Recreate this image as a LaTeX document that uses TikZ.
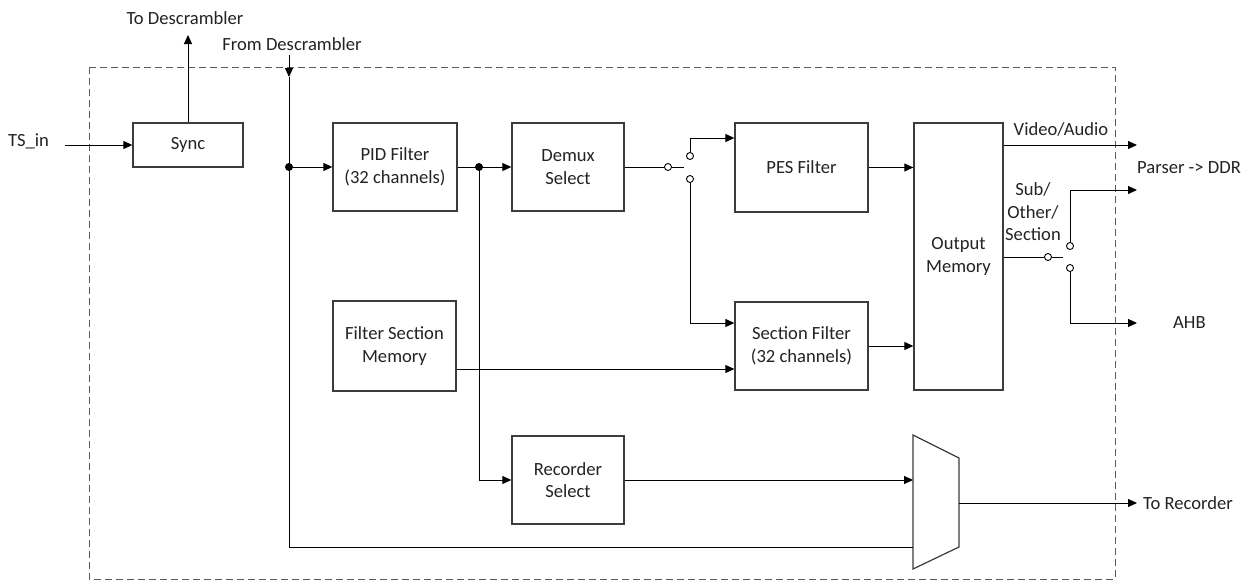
\documentclass[tikz,border=0pt]{standalone}
\usepackage{fontspec}
\setmainfont{Carlito}
\usetikzlibrary{arrows.meta,calc}
\definecolor{txt}{RGB}{35,35,35}
\definecolor{boxc}{RGB}{60,60,60}
\definecolor{dashc}{RGB}{90,90,90}
\tikzset{
  blk/.style={draw=boxc, line width=1.3pt, fill=white, align=center, text=txt, inner sep=0pt},
  lbl/.style={text=txt, inner sep=0pt, align=center},
  conn/.style={draw=black, line width=1pt},
  arr/.style={conn, -{Triangle[length=9pt,width=8pt]}},
  jdot/.style={circle, fill=black, inner sep=0pt, minimum size=8pt},
  sw/.style={circle, draw=black, line width=0.9pt, fill=white, inner sep=0pt, minimum size=7pt},
}
\begin{document}
\begin{tikzpicture}[x=1pt,y=-1pt,font=\fontsize{18.6}{22.6}\selectfont]
\useasboundingbox (0,0) rectangle (1254,581);
% frame
\draw[dashc, line width=1pt, dash pattern=on 7pt off 4pt] (89,67) rectangle (1115,579);

% blocks
\node[blk, minimum width=110pt, minimum height=44pt] (sync) at (188,145) {Sync};
\node[blk, minimum width=124pt, minimum height=88pt] (pid) at (395,167) {PID Filter\\(32 channels)};
\node[blk, minimum width=112pt, minimum height=88pt] (demux) at (568,167) {Demux\\Select};
\node[blk, minimum width=123pt, minimum height=90pt] (fsm) at (394.5,346) {Filter Section\\Memory};
\node[blk, minimum width=112pt, minimum height=88pt] (rec) at (568,480) {Recorder\\Select};
\node[blk, minimum width=133pt, minimum height=89pt] (pes) at (801.5,167.5) {PES Filter};
\node[blk, minimum width=133pt, minimum height=88pt] (secf) at (801.5,346) {Section Filter\\(32 channels)};
\node[blk, minimum width=89pt, minimum height=267pt] (outm) at (958.5,256.5) {Output\\Memory};

% multiplexer
\coordinate (m1) at (913,435);
\coordinate (m2) at (959,458);
\coordinate (m3) at (959,547);
\coordinate (m4) at (913,569);
\draw[boxc, line width=1.2pt, fill=white] (m1) -- (m2) -- (m3) -- (m4) -- cycle;
\coordinate (muxout) at (959,503);

% texts
\node[lbl, anchor=west] (tsin) at (8,141) {TS\_in};
\node[lbl] (todesc) at (185,18) {To Descrambler};
\node[lbl] (fromdesc) at (292,44) {From Descrambler};
\node[lbl] (va) at (1061,129) {Video/Audio};
\node[lbl, anchor=west] (pddr) at (1137,168) {Parser -> DDR};
\node[lbl] (sos) at (1033,212) {Sub/\\Other/\\Section};
\node[lbl, anchor=west] (ahb) at (1173,323) {AHB};
\node[lbl, anchor=west] (torec) at (1143,503) {To Recorder};

% coordinates
\coordinate (tsstart) at (65,145);
\coordinate (tdtip) at (188,35);
\coordinate (fdstart) at (289,55);
\coordinate (fdtip) at (289,77);
\coordinate (j1) at (289,167);
\coordinate (jb) at (289,547);
\coordinate (j2) at (479,167);
\coordinate (vatip) at (1137,145);
\coordinate (subtip) at (1137,190);
\coordinate (ahbtip) at (1137,323);
\coordinate (rectip) at (1137,503);

% input side
\draw[arr] (tsstart) -- (sync.west);
\draw[arr] (sync.north) -- (tdtip);
\draw[arr] (fdstart) -- (fdtip);
\draw[conn] (fdtip) -- (jb) -- (jb -| m1);
\draw[arr] (j1) -- (pid.west);
\node[jdot] (d1) at (j1) {};

% PID to demux and recorder
\draw[arr] (pid.east) -- (demux.west);
\draw[arr] (j2) |- (rec.west);
\node[jdot] (d2) at (j2) {};

% demux switch
\node[sw] (s1) at (668,167) {};
\node[sw] (s2) at (690,156) {};
\node[sw] (s3) at (690,179) {};
\coordinate (s1stub) at (684,167);
\draw[conn] (demux.east) -- (s1.west);
\draw[conn] (s1.east) -- (s1stub);
\draw[arr] (s2.north) |- ([yshift=29.5pt]pes.west);
\draw[arr] (s3.south) |- ([yshift=23pt]secf.west);

% filter section memory
\draw[arr] ([yshift=-23pt]fsm.east) -- ([yshift=-23pt]fsm.east -| secf.west);

% filters to output memory
\draw[arr] (pes.east) -- (pes.east -| outm.west);
\draw[arr] (secf.east) -- (secf.east -| outm.west);

% output memory outputs
\draw[arr] (vatip -| outm.east) -- (vatip);
\node[sw] (s4) at (1048,257) {};
\node[sw] (s5) at (1070,246) {};
\node[sw] (s6) at (1070,268) {};
\coordinate (s4stub) at (1063,257);
\draw[conn] (s4 -| outm.east) -- (s4.west);
\draw[conn] (s4.east) -- (s4stub);
\draw[arr] (s5.north) |- (subtip);
\draw[arr] (s6.south) |- (ahbtip);

% recorder path
\draw[arr] (rec.east) -- (rec.east -| m1);
\draw[arr] (muxout) -- (rectip);
\end{tikzpicture}
\end{document}
